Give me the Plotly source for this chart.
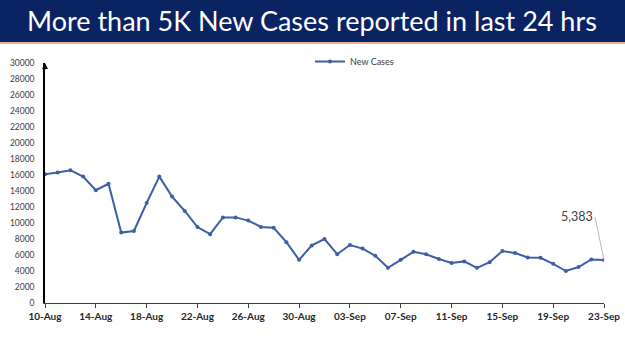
import plotly.graph_objects as go
import pandas as pd

dates = pd.date_range("2020-08-10", "2020-09-23", freq="D")
new_cases = [16100, 16300, 16600, 15800, 14100, 14900, 8800, 9000, 12500, 15800,
             13300, 11500, 9500, 8600, 10700, 10700, 10300, 9500, 9400, 7600,
             5400, 7200, 8000, 6100, 7250, 6800, 5900, 4400, 5400, 6400,
             6100, 5500, 5000, 5200, 4400, 5100, 6500, 6250, 5700, 5650,
             4900, 4000, 4500, 5450, 5383]
title_text = "More than 5K New Cases reported in last 24 hrs"
series_name = "New Cases"
y_ticks = list(range(0, 30001, 2000))

# plot area pixels
L, R, T, B = 45, 21, 63, 48
W, H = 625, 351
ph = H - T - B
pw = W - L - R

def py(y):  # pixel y -> paper y
    return (H - B - y) / ph

def px(x):
    return (x - L) / pw

fig = go.Figure()
fig.add_trace(go.Scatter(
    x=dates, y=new_cases, mode="lines+markers", name=series_name,
    line=dict(color="#3d5fa6", width=2),
    marker=dict(size=4, color="#3d5fa6"),
))

fig.update_layout(
    width=W, height=H,
    margin=dict(l=L, r=R, t=T, b=B, autoexpand=False),
    paper_bgcolor="white", plot_bgcolor="white",
    showlegend=True,
    legend=dict(x=px(310), y=py(47), xanchor="left", yanchor="top",
                orientation="h", font=dict(family="Lato, Carlito, sans-serif", size=9, color="#404040"),
                bgcolor="rgba(0,0,0,0)", itemwidth=30),
    xaxis=dict(
        range=[dates[0], dates[-1]], type="date", automargin=False,
        tick0=dates[0], dtick=4 * 86400000, tickformat="%d-%b",
        showgrid=False, showline=True, linecolor="#404040", linewidth=1,
        ticks="outside", ticklen=4, tickcolor="#404040",
        tickfont=dict(family="Lato, Carlito, sans-serif", size=10, color="#262626", weight="bold"),
        zeroline=False,
    ),
    yaxis=dict(
        range=[0, 30000], tickvals=y_ticks, ticktext=[str(v) for v in y_ticks], automargin=False,
        showgrid=False, showline=True, linecolor="#000000", linewidth=1.5,
        ticks="", tickfont=dict(family="Lato, Carlito, sans-serif", size=8.5, color="#404040"),
        zeroline=False, ticklabelstandoff=7,
    ),
    shapes=[
        dict(type="rect", xref="paper", yref="paper", x0=px(0), x1=px(W), y0=py(42), y1=py(0),
             fillcolor="#0a2363", line=dict(width=0), layer="above"),
        dict(type="line", xref="paper", yref="paper", x0=px(0), x1=px(W), y0=py(43), y1=py(43),
             line=dict(color="#e59a72", width=1.5)),
    ],
    annotations=[
        dict(xref="paper", yref="paper", x=px(W / 2 - 1), y=py(21), text=title_text,
             showarrow=False, xanchor="center", yanchor="middle",
             font=dict(family="Lato, Noto Sans, sans-serif", size=27, color="white")),
        dict(x=dates[-1], y=new_cases[-1], xref="x", yref="y",
             text=f"{new_cases[-1]:,}", showarrow=True, arrowhead=0, arrowwidth=0.8,
             arrowcolor="#a6a6a6", ax=-9, ay=-43, xanchor="right", yanchor="middle",
             font=dict(family="Lato, Carlito, sans-serif", size=12.5, color="#404040")),
        dict(xref="paper", yref="paper", x=0, y=1, ax=0, ay=8, axref="pixel", ayref="pixel",
             text="", showarrow=True, arrowhead=2, arrowsize=1, arrowwidth=1.2, arrowcolor="#000000",
             standoff=0),
    ],
)

fig.write_html("out.html")
